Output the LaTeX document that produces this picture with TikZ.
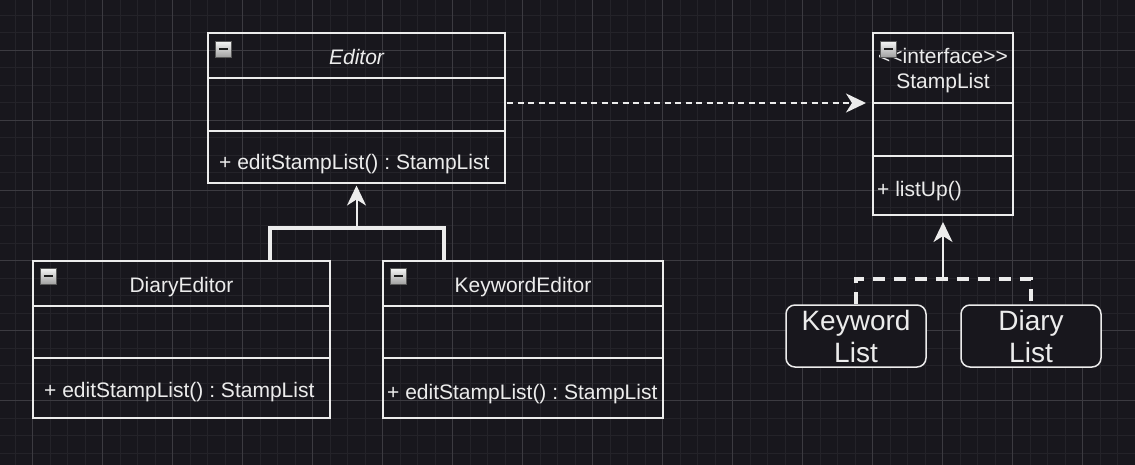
\documentclass[tikz,border=0pt]{standalone}
\usepackage{fontspec}
\setmainfont{Liberation Sans}
\usepackage{tikz}
\usetikzlibrary{arrows.meta}
\usetikzlibrary{positioning}
\frenchspacing

\definecolor{canvas}{RGB}{24,23,29}
\definecolor{gridminor}{RGB}{36,35,41}
\definecolor{gridmajor}{RGB}{60,59,65}
\definecolor{linec}{RGB}{236,236,236}
\definecolor{iconbar}{RGB}{30,30,30}

\begin{document}
\begin{tikzpicture}[x=1pt, y=-1pt, >={Stealth[length=20pt, width=19pt, inset=6pt]}]
  \tikzset{part/.style={draw=linec, line width=1.5pt, inner sep=0pt, outer sep=0pt},
    txt/.style={text=linec, inner sep=0pt, font=\fontsize{21}{25}\selectfont},
    icon/.style={anchor=north west, minimum size=16pt, inner sep=0pt, draw=gray!70!black,
      line width=0.8pt, top color=white!92!gray, bottom color=gray!75},
    roundbox/.style={draw=linec, fill=canvas, line width=1.5pt, rounded corners=9pt,
      minimum width=140, minimum height=62, align=center, text=linec,
      font=\fontsize{28}{32}\selectfont},
    arrowline/.style={draw=linec, line width=2pt},
    depline/.style={draw=linec, line width=2pt, dash pattern=on 6pt off 4.5pt},
    treeline/.style={draw=linec, line width=3.5pt},
    realline/.style={draw=linec, line width=3.5pt, dash pattern=on 12pt off 9pt}}

  % background and grid
  \useasboundingbox[fill=canvas] (0,0) rectangle (1135,465);
  \begin{scope}[y=1pt, shift={(-2.5,-15.5)}]
    \draw[gridminor, line width=1pt, step=17.5pt] (-20,-480) grid (1160,40);
  \end{scope}
  \begin{scope}[y=1pt, shift={(32.5,-50.5)}]
    \draw[gridmajor, line width=1pt, step=70pt] (-70,-480) grid (1160,70);
  \end{scope}

  %--- Editor ---
  \node[part, minimum width=297, minimum height=45, anchor=north west] (edhead) at (208,33) {};
  \node[part, minimum width=297, minimum height=53, below=0pt of edhead] (edattr) {};
  \node[part, minimum width=297, minimum height=52, below=0pt of edattr] (edmeth) {};
  \node[txt, anchor=base] (edname) at ([yshift=-32pt]edhead.north) {\itshape Editor};
  \node[txt, anchor=base west] (edop) at ([xshift=11pt, yshift=-39pt]edmeth.north west) {+ editStampList() : StampList};
  \node[icon] (edicon) at ([xshift=7pt, yshift=-8pt]edhead.north west) {\textcolor{iconbar}{\rule{9pt}{2pt}}};

  %--- DiaryEditor ---
  \node[part, minimum width=297, minimum height=45, anchor=north west] (diahead) at (33,261) {};
  \node[part, minimum width=297, minimum height=52, below=0pt of diahead] (diaattr) {};
  \node[part, minimum width=297, minimum height=60, below=0pt of diaattr] (diameth) {};
  \node[txt, anchor=base] (dianame) at ([yshift=-31pt]diahead.north) {DiaryEditor};
  \node[txt, anchor=base west] (diaop) at ([xshift=11pt, yshift=-39pt]diameth.north west) {+ editStampList() : StampList};
  \node[icon] (diaicon) at ([xshift=7pt, yshift=-7pt]diahead.north west) {\textcolor{iconbar}{\rule{9pt}{2pt}}};

  %--- KeywordEditor ---
  \node[part, minimum width=280, minimum height=45, anchor=north west] (kwhead) at (383,261) {};
  \node[part, minimum width=280, minimum height=52, below=0pt of kwhead] (kwattr) {};
  \node[part, minimum width=280, minimum height=60, below=0pt of kwattr] (kwmeth) {};
  \node[txt, anchor=base] (kwname) at ([yshift=-31pt]kwhead.north) {KeywordEditor};
  \node[txt, anchor=base west] (kwop) at ([xshift=4pt, yshift=-41pt]kwmeth.north west) {+ editStampList() : StampList};
  \node[icon] (kwicon) at ([xshift=7pt, yshift=-7pt]kwhead.north west) {\textcolor{iconbar}{\rule{9pt}{2pt}}};

  %--- StampList (interface) ---
  \node[part, minimum width=140, minimum height=70, anchor=north west] (sthead) at (873,33) {};
  \node[part, minimum width=140, minimum height=53, below=0pt of sthead] (stattr) {};
  \node[part, minimum width=140, minimum height=59, below=0pt of stattr] (stmeth) {};
  \node[txt, anchor=base] (ststereo) at ([yshift=-31pt]sthead.north) {<\kern0pt<interface>\kern0pt>};
  \node[txt, anchor=base] (stname) at ([yshift=-56pt]sthead.north) {StampList};
  \node[txt, anchor=base west] (stop) at ([xshift=4pt, yshift=-41pt]stmeth.north west) {+ listUp()};
  \node[icon] (sticon) at ([xshift=7pt, yshift=-8pt]sthead.north west) {\textcolor{iconbar}{\rule{9pt}{2pt}}};

  %--- implementations ---
  \node[roundbox] (kwlist) at (856,336) {Keyword\\List};
  \node[roundbox] (dlist) at (1031,336) {Diary\\List};

  %--- connectors ---
  % editors -> Editor
  \coordinate (edjoin) at (356.5,228);
  \draw[treeline] ([xshift=-60pt]diahead.north east) |- (edjoin) -| ([xshift=61pt]kwhead.north west);
  \draw[arrowline, ->, shorten >=2.5pt] (edjoin) -- (edmeth.south);

  % Editor uses StampList
  \draw[depline, ->, shorten <=2pt] (edattr.east |- sthead.south) -- ([xshift=-7pt]sthead.south west);

  % lists -> StampList
  \coordinate (stjoin) at (943,279);
  \draw[realline] (kwlist.north) |- (stjoin) -| (dlist.north);
  \draw[arrowline, ->, shorten >=7pt] (stjoin) -- (stmeth.south);
\end{tikzpicture}
\end{document}
